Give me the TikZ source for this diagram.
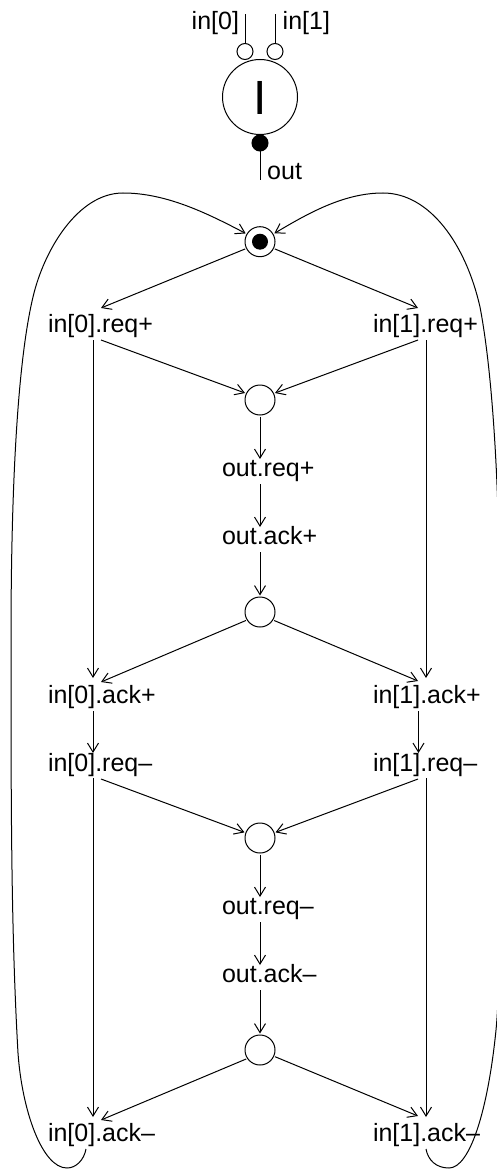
\documentclass[tikz,border=0pt]{standalone}
\usepackage{fontspec}
\setmainfont{Liberation Sans}
\usetikzlibrary{arrows.meta}
\tikzset{
 x=1pt,y=1pt,
 lab/.style={inner sep=0pt,outer sep=0pt,anchor=base west,font=\fontsize{25}{30}\selectfont,text height=24pt,text depth=8pt},
 glab/.style={inner sep=0pt,font=\fontsize{25}{30}\selectfont},
 place/.style={circle,draw,line width=1pt,minimum size=30pt,inner sep=0pt,outer sep=1.5pt},
 bub/.style={circle,draw,line width=1pt,minimum size=16pt,inner sep=0pt,outer sep=0pt},
 arc/.style={line width=1pt,-{Straight Barb[length=9pt,width=11pt,line width=1pt]}},
 wire/.style={line width=1pt},
}
\begin{document}
\begin{tikzpicture}
\useasboundingbox (0,0) rectangle (496,-1169);
% gate
\node[circle,draw,line width=1pt,minimum size=75pt,inner sep=0pt] (gate) at (260,-97) {};
\node[inner sep=0pt,anchor=base,font=\fontsize{48}{48}\selectfont] (gl) at (260,-115) {I};
\node[bub] (b0) at (245,-51.5) {};
\node[bub] (b1) at (275,-51.5) {};
\node[bub,fill=black] (b2) at (260,-143) {};
\coordinate (i0) at (245,-14.5);
\coordinate (i1) at (275,-14.5);
\coordinate (o) at (260,-180);
\draw[wire] (i0) -- (b0);
\draw[wire] (i1) -- (b1);
\draw[wire] (b2) -- (o);
\node[glab,anchor=base west] (li0) at (191.5,-30) {in[0]};
\node[glab,anchor=base west] (li1) at (282.5,-30) {in[1]};
\node[glab,anchor=base west] (lo) at (267,-180) {out};
% places
\node[place] (p0) at (260,-241.7) {};
\fill (p0.center) circle (8);
\node[place] (p1) at (260,-400) {};
\node[place] (p2) at (260,-612) {};
\node[place] (p3) at (260,-838) {};
\node[place] (p4) at (260,-1050) {};
% transitions
\node[lab] (a) at (48,-332) {in[0].req+};
\node[lab] (b) at (373,-332) {in[1].req+};
\node[lab] (c) at (222,-476) {out.req+};
\node[lab] (d) at (222,-544) {out.ack+};
\node[lab] (e) at (48,-703) {in[0].ack+};
\node[lab] (f) at (373,-703) {in[1].ack+};
\node[lab] (g) at (48,-771) {in[0].req–};
\node[lab] (h) at (373,-771) {in[1].req–};
\node[lab] (i) at (222,-914) {out.req–};
\node[lab] (j) at (222,-982) {out.ack–};
\node[lab] (k) at (48,-1141) {in[0].ack–};
\node[lab] (l) at (373,-1141) {in[1].ack–};
% arcs
\draw[arc] (p0.206) -- ([xshift=53]a.north west);
\draw[arc] (p0.334) -- ([xshift=45]b.north west);
\draw[arc] ([xshift=53]a.south west) -- (p1.155);
\draw[arc] ([xshift=45]b.south west) -- (p1.25);
\draw[arc] ([xshift=45]a.south west) -- ([shift={(45,1)}]e.north west);
\draw[arc] ([xshift=53]b.south west) -- ([shift={(53,1)}]f.north west);
\draw[arc] (p1.south) -- ([shift={(38,-7)}]c.north west);
\draw[arc] ([xshift=38]c.south west) -- ([shift={(38,-7)}]d.north west);
\draw[arc] ([xshift=38]d.south west) -- (p2.north);
\draw[arc] (p2.211) -- ([shift={(53,-3)}]e.north west);
\draw[arc] (p2.329) -- ([shift={(45,-2)}]f.north west);
\draw[arc] ([xshift=45]e.south west) -- ([shift={(45,-6)}]g.north west);
\draw[arc] ([xshift=45.5]f.south west) -- ([shift={(45.5,-6)}]h.north west);
\draw[arc] ([xshift=53]g.south west) -- (p3.160);
\draw[arc] ([xshift=45]h.south west) -- (p3.20);
\draw[arc] ([shift={(45,1)}]g.south west) -- ([xshift=45]k.north west);
\draw[arc] ([shift={(53,1)}]h.south west) -- ([xshift=53]l.north west);
\draw[arc] (p3.south) -- ([shift={(38,-7)}]i.north west);
\draw[arc] ([xshift=38]i.south west) -- ([shift={(38,-7)}]j.north west);
\draw[arc] ([xshift=38]j.south west) -- (p4.north);
\draw[arc] (p4.213) -- ([shift={(53,-3)}]k.north west);
\draw[arc] (p4.336) -- ([shift={(45,1)}]l.north west);
% loops
\draw[arc] ([xshift=38]k.south west) .. controls (84,-1160) and (76,-1168) .. (67,-1168)
 .. controls (42,-1168) and (22,-1110) .. (18,-1053)
 .. controls (11,-930) and (11,-800) .. (11,-640)
 .. controls (11,-480) and (18,-360) .. (33,-297)
 .. controls (44,-250) and (78,-193) .. (123,-193)
 .. controls (165,-193) and (205,-212) .. (p0.150);
\draw[arc] ([xshift=53]l.south west) .. controls (428,-1160) and (436,-1168) .. (449,-1168)
 .. controls (470,-1168) and (488,-1110) .. (496,-1030)
 .. controls (502,-970) and (500,-800) .. (500,-640)
 .. controls (500,-480) and (492,-370) .. (480,-307)
 .. controls (466,-245) and (430,-193) .. (383,-193)
 .. controls (345,-193) and (310,-212) .. (p0.30);
\end{tikzpicture}
\end{document}
